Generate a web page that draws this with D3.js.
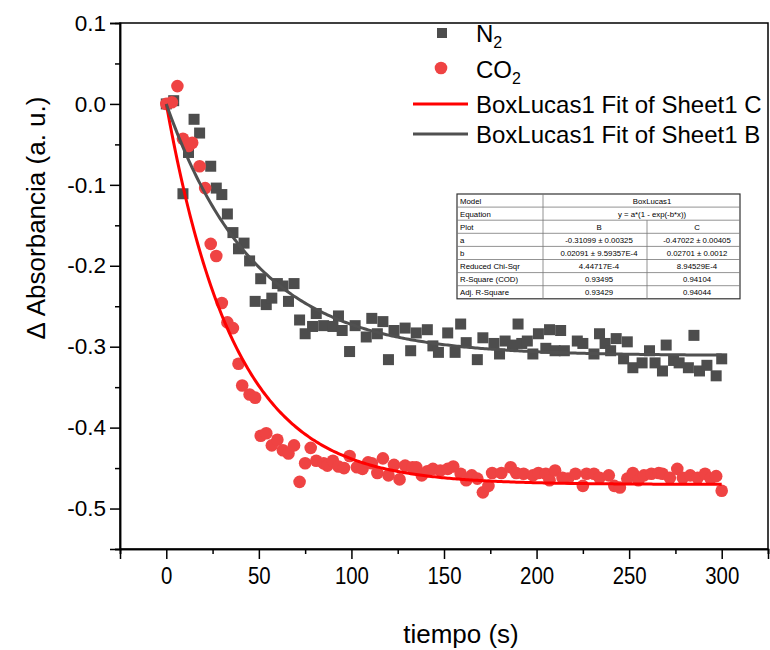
<!DOCTYPE html>
<html>
<head>
<meta charset="utf-8">
<script src="https://cdn.jsdelivr.net/npm/d3@7"></script>
<style>
  body { margin: 0; background: #fff; }
  svg text { font-family: "Liberation Sans", Arial, sans-serif; }
</style>
</head>
<body>
<div id="chart"></div>
<script>
// N2 (squares) - tiempo (s) / delta absorbancia
const n2Time = [0, 4, 9, 12, 15, 18, 24, 27, 30, 33, 36, 39, 42, 45, 48, 51, 54, 57, 60, 63,
  66, 69, 72, 75, 79, 81, 85, 90, 93, 95, 99, 102, 108, 111, 114, 117, 120, 123, 129, 132,
  135, 141, 144, 147, 152, 156, 159, 162, 168, 171, 177, 180, 183, 187, 190, 192, 195, 198, 201, 205,
  207, 210, 213, 215, 222, 225, 231, 234, 237, 240, 243, 247, 249, 252, 257, 261, 264, 268, 270, 274,
  277, 282, 285, 288, 292, 297, 300]
const n2Abs = [0, 0.004, -0.111, -0.060, -0.019, -0.036, -0.077, -0.104, -0.112, -0.136,
  -0.159, -0.179, -0.172, -0.194, -0.244, -0.216, -0.248, -0.240, -0.222, -0.225,
  -0.244, -0.222, -0.267, -0.284, -0.275, -0.259, -0.274, -0.275, -0.262, -0.280,
  -0.306, -0.274, -0.288, -0.265, -0.284, -0.269, -0.316, -0.280, -0.277, -0.305,
  -0.283, -0.279, -0.299, -0.307, -0.283, -0.307, -0.272, -0.295, -0.316, -0.289,
  -0.296, -0.309, -0.293, -0.298, -0.272, -0.296, -0.293, -0.309, -0.284, -0.302,
  -0.279, -0.305, -0.280, -0.305, -0.293, -0.296, -0.309, -0.284, -0.296, -0.305,
  -0.290, -0.315, -0.294, -0.326, -0.320, -0.305, -0.320, -0.330, -0.298, -0.317,
  -0.320, -0.326, -0.286, -0.330, -0.323, -0.336, -0.315]

// CO2 (circles)
const co2Time = [0, 3, 6, 9, 12, 14, 18, 21, 24, 27, 30, 33, 36, 39, 41, 45, 48, 51, 54, 57,
  60, 63, 66, 69, 72, 75, 78, 81, 85, 87, 90, 93, 96, 99, 103, 106, 109, 111, 114, 117,
  120, 123, 126, 129, 133, 135, 138, 141, 144, 148, 152, 155, 159, 162, 165, 168, 171, 174, 176, 181,
  186, 189, 193, 198, 201, 205, 207, 210, 214, 217, 221, 225, 227, 231, 234, 239, 242, 245, 249, 252,
  255, 258, 262, 266, 268, 272, 276, 279, 283, 287, 291, 294, 297, 300]
const co2Abs = [0, 0.002, 0.022, -0.043, -0.052, -0.048, -0.077, -0.104, -0.173, -0.188,
  -0.246, -0.270, -0.277, -0.321, -0.348, -0.359, -0.363, -0.410, -0.407, -0.422,
  -0.415, -0.428, -0.432, -0.422, -0.467, -0.444, -0.425, -0.441, -0.444, -0.447,
  -0.441, -0.448, -0.450, -0.435, -0.449, -0.451, -0.443, -0.444, -0.456, -0.438,
  -0.459, -0.446, -0.464, -0.447, -0.449, -0.449, -0.459, -0.454, -0.451, -0.453,
  -0.451, -0.448, -0.457, -0.465, -0.459, -0.463, -0.480, -0.472, -0.456, -0.456,
  -0.449, -0.456, -0.457, -0.459, -0.456, -0.457, -0.465, -0.453, -0.462, -0.463,
  -0.457, -0.472, -0.457, -0.457, -0.462, -0.459, -0.472, -0.474, -0.463, -0.456,
  -0.465, -0.459, -0.457, -0.456, -0.457, -0.462, -0.451, -0.462, -0.459, -0.462,
  -0.457, -0.463, -0.460, -0.478]

// BoxLucas1 fit parameters y = a*(1 - exp(-b*x))
const fitB = { a: -0.31099, b: 0.02091 }   // N2 (Sheet1 B)
const fitC = { a: -0.47022, b: 0.02701 }   // CO2 (Sheet1 C)

const xTicks = [0, 50, 100, 150, 200, 250, 300]
const xMinor = [-25, 25, 75, 125, 175, 225, 275, 325]
const yTicks = [0.1, 0.0, -0.1, -0.2, -0.3, -0.4, -0.5]
const yMinor = [0.05, -0.05, -0.15, -0.25, -0.35, -0.45, -0.55]

const legendLabels = ['N', 'CO', 'BoxLucas1 Fit of Sheet1 C', 'BoxLucas1 Fit of Sheet1 B']

const tableRowNames = ['Model', 'Equation', 'Plot', 'a', 'b', 'Reduced Chi-Sqr', 'R-Square (COD)', 'Adj. R-Square']
const tableColB = ['BoxLucas1', 'y = a*(1 - exp(-b*x))', 'B', '-0.31099 \u00b1 0.00325', '0.02091 \u00b1 9.59357E-4', '4.44717E-4', '0.93495', '0.93429']
const tableColC = [null, null, 'C', '-0.47022 \u00b1 0.00405', '0.02701 \u00b1 0.0012', '8.94529E-4', '0.94104', '0.94044']

const W = 770, H = 650
const mLeft = 120, mRight = 768, mTop = 23, mBottom = 549
const grey = '#4d4d4d', red = '#ef4343'

const svg = d3.select('#chart').append('svg')
  .attr('width', W).attr('height', H)

const x = d3.scaleLinear().domain([-25, 325]).range([mLeft, mRight])
const y = d3.scaleLinear().domain([-0.55, 0.1]).range([mBottom, mTop])

// frame
svg.append('rect')
  .attr('x', mLeft).attr('y', mTop)
  .attr('width', mRight - mLeft).attr('height', mBottom - mTop)
  .attr('fill', 'none').attr('stroke', '#000').attr('stroke-width', 1.5)

// axes
const fmt = d => d.toFixed(1)
const yAxis = svg.append('g').attr('transform', `translate(${mLeft},0)`)
  .call(d3.axisLeft(y).tickValues(yTicks).tickSize(10).tickPadding(4).tickFormat(fmt))
const yAxisMinor = svg.append('g').attr('transform', `translate(${mLeft},0)`)
  .call(d3.axisLeft(y).tickValues(yMinor).tickSize(5).tickFormat(''))
const xAxis = svg.append('g').attr('transform', `translate(0,${mBottom})`)
  .call(d3.axisBottom(x).tickValues(xTicks).tickSize(10).tickPadding(8).tickFormat(d => d))
const xAxisMinor = svg.append('g').attr('transform', `translate(0,${mBottom})`)
  .call(d3.axisBottom(x).tickValues(xMinor).tickSize(5).tickFormat(''))

;[yAxis, yAxisMinor, xAxis, xAxisMinor].forEach(g => {
  g.select('.domain').attr('stroke', '#000').attr('stroke-width', 1.5)
  g.selectAll('.tick line').attr('stroke', '#000').attr('stroke-width', 1.5)
  g.selectAll('.tick text').attr('fill', '#000')
})
yAxis.selectAll('.tick text').attr('font-size', 22.5)
xAxis.selectAll('.tick text').attr('font-size', 24)
  .attr('transform', 'scale(0.85,1)')

// axis titles
svg.append('text')
  .attr('x', 461).attr('y', 643)
  .attr('text-anchor', 'middle').attr('font-size', 26)
  .text('tiempo (s)')
svg.append('text')
  .attr('transform', 'translate(45,218) rotate(-90)')
  .attr('text-anchor', 'middle').attr('font-size', 26)
  .text('\u0394 Absorbancia (a. u.)')

// data
const plot = svg.append('g')
const n2 = n2Time.map((t, i) => ({ t, v: n2Abs[i] }))
const co2 = co2Time.map((t, i) => ({ t, v: co2Abs[i] }))
const sq = 11
plot.selectAll('rect.n2').data(n2).join('rect')
  .attr('class', 'n2')
  .attr('x', d => x(d.t) - sq / 2).attr('y', d => y(d.v) - sq / 2)
  .attr('width', sq).attr('height', sq)
  .attr('fill', grey)
plot.selectAll('circle.co2').data(co2).join('circle')
  .attr('class', 'co2')
  .attr('cx', d => x(d.t)).attr('cy', d => y(d.v)).attr('r', 6.3)
  .attr('fill', red)

// fit curves
const fitGrid = d3.range(0, 300.5, 1)
const line = d3.line().x(d => x(d.t)).y(d => y(d.v))
const curve = p => fitGrid.map(t => ({ t, v: p.a * (1 - Math.exp(-p.b * t)) }))
plot.append('path').attr('d', line(curve(fitC)))
  .attr('fill', 'none').attr('stroke', '#ff0000').attr('stroke-width', 3)
plot.append('path').attr('d', line(curve(fitB)))
  .attr('fill', 'none').attr('stroke', '#505050').attr('stroke-width', 3)

// legend
const lg = svg.append('g')
lg.append('rect').attr('x', 437).attr('y', 28).attr('width', 10).attr('height', 10).attr('fill', grey)
lg.append('circle').attr('cx', 441).attr('cy', 68).attr('r', 6.3).attr('fill', red)
lg.append('line').attr('x1', 413).attr('x2', 468).attr('y1', 104).attr('y2', 104)
  .attr('stroke', '#ff0000').attr('stroke-width', 3)
lg.append('line').attr('x1', 413).attr('x2', 468).attr('y1', 134).attr('y2', 134)
  .attr('stroke', '#505050').attr('stroke-width', 3)
const baselines = [42, 78, 113, 143]
legendLabels.forEach((lab, i) => {
  const t = lg.append('text').attr('x', 476).attr('y', baselines[i]).attr('font-size', 24).text(lab)
  if (i < 2) t.append('tspan').attr('font-size', 16).attr('dy', 6).text('2')
})

// parameter table
const tx = [457, 543, 647, 740]
const rowH = 13.1, tTop = 194
const tg = svg.append('g').attr('font-size', 7.8)
tg.append('rect').attr('x', tx[0]).attr('y', tTop)
  .attr('width', tx[3] - tx[0]).attr('height', rowH * tableRowNames.length)
  .attr('fill', '#fff').attr('stroke', '#333').attr('stroke-width', 1.2)
tableRowNames.forEach((name, i) => {
  const yy = tTop + i * rowH
  if (i > 0) {
    tg.append('line').attr('x1', tx[0]).attr('x2', tx[3]).attr('y1', yy).attr('y2', yy)
      .attr('stroke', '#777').attr('stroke-width', 0.8)
  }
  tg.append('text').attr('x', tx[0] + 3).attr('y', yy + rowH - 3.5).text(name)
  if (tableColC[i] === null) {
    tg.append('text').attr('x', 652).attr('y', yy + rowH - 3.5)
      .attr('text-anchor', 'middle').text(tableColB[i])
  } else {
    tg.append('text').attr('x', 599).attr('y', yy + rowH - 3.5)
      .attr('text-anchor', 'middle').text(tableColB[i])
    tg.append('text').attr('x', 697).attr('y', yy + rowH - 3.5)
      .attr('text-anchor', 'middle').text(tableColC[i])
  }
})
tg.append('line').attr('x1', tx[1]).attr('x2', tx[1])
  .attr('y1', tTop).attr('y2', tTop + rowH * tableRowNames.length)
  .attr('stroke', '#777').attr('stroke-width', 0.8)
tg.append('line').attr('x1', tx[2]).attr('x2', tx[2])
  .attr('y1', tTop + rowH * 2).attr('y2', tTop + rowH * tableRowNames.length)
  .attr('stroke', '#777').attr('stroke-width', 0.8)
</script>
</body>
</html>
